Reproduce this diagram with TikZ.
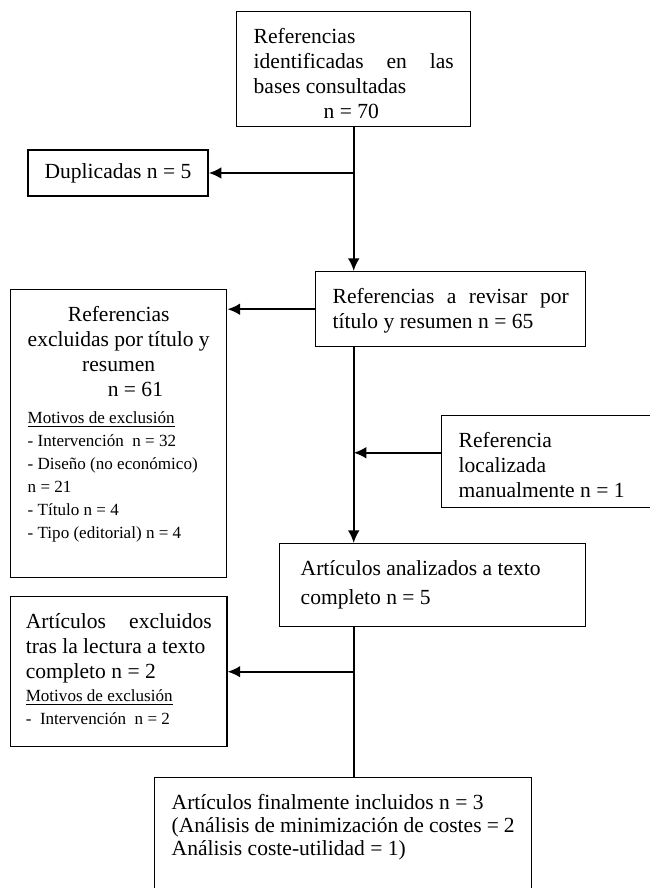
\documentclass[tikz,border=0pt]{standalone}
\usepackage{fontspec}
\setmainfont{Liberation Serif}
\usetikzlibrary{arrows.meta}
\newdimen\px
\px=0.557pt
\newcommand{\caja}[3]{\parbox[t][#2\px][t]{#1\px}{#3}}
\newcommand{\chica}{\fontsize{9.5}{12.8}\selectfont}
\begin{document}
\begin{tikzpicture}[x=0.557pt, y=-0.557pt,
    box/.style={draw, line width=0.8pt, inner sep=9.47pt, anchor=north west,
      font=\fontsize{12}{13.9}\selectfont},
    flecha/.style={-{Latex[length=7pt,width=6.5pt]}, line width=1.1pt}]
  \useasboundingbox (0,0) rectangle (649,888);

  \node[box] (id) at (236,11) {\caja{200}{81}{%
      Referencias\\
      \makebox[\linewidth][s]{identificadas en las}\\
      bases consultadas\\
      \hspace*{39pt}n = 70}};
  \node[box, anchor=center, minimum width=100.3pt, minimum height=25.6pt,
    inner sep=2pt] (dup) at (118,173) {Duplicadas n = 5};
  \node[box] (rev) at (315,271) {\caja{236}{41}{%
      \makebox[\linewidth][s]{Referencias a revisar por}\\
      título y resumen n = 65}};
  \node[box] (excl) at (10,289) {\caja{182}{254}{%
      {\centering Referencias\\ excluidas por título y\\ resumen\par}
      \hspace*{44.6pt}n = 61\par
      \vspace{2pt}
      {\chica \underline{Motivos de exclusión}\\
        - Intervención~ n = 32\\
        - Diseño (no económico)\\
        n = 21\\
        - Título n = 4\\
        - Tipo (editorial) n = 4\par}}};
  \node[box] (man) at (441,415) {\caja{200}{58}{%
      Referencia\\
      localizada\\
      manualmente n = 1}};
  \node[box, inner xsep=11.7pt] (texto) at (279,543) {\caja{264}{49}{%
      Artículos analizados a texto\\[2pt]
      completo n = 5}};
  \node[box, inner xsep=8.4pt] (excl2) at (10,596) {\caja{186}{116}{%
      \makebox[\linewidth][s]{Artículos excluidos}\\
      tras la lectura a texto\\
      completo n = 2\par
      {\chica \underline{Motivos de exclusión}\\
        -~ Intervención~ n = 2\par}}};
  \node[box, font=\fontsize{12}{12.8}\selectfont] (incl) at (154,777) {\caja{343}{100}{%
      Artículos finalmente incluidos n = 3\\
      (Análisis de minimización de costes = 2\\
      Análisis coste-utilidad = 1)}};

  \coordinate (a1) at (id.south |- dup.east);
  \coordinate (a2) at (id.south |- rev.south);
  \coordinate (a3) at ([yshift=5pt]man.west);
  \coordinate (a4) at (id.south |- texto.south);
  \coordinate (a5) at (id.south |- excl2.east);

  \path[flecha] (id.south) edge (id.south |- rev.north);
  \path[flecha] (a1) edge (dup.east);
  \path[flecha] (rev.west) edge (rev.west -| excl.east);
  \path[flecha] (a2) edge (id.south |- texto.north);
  \path[flecha] (a3) edge (a3 -| id.south);
  \path[line width=1.1pt] (a4) edge (id.south |- incl.north);
  \path[flecha] (a5) edge (excl2.east);
\end{tikzpicture}
\end{document}
